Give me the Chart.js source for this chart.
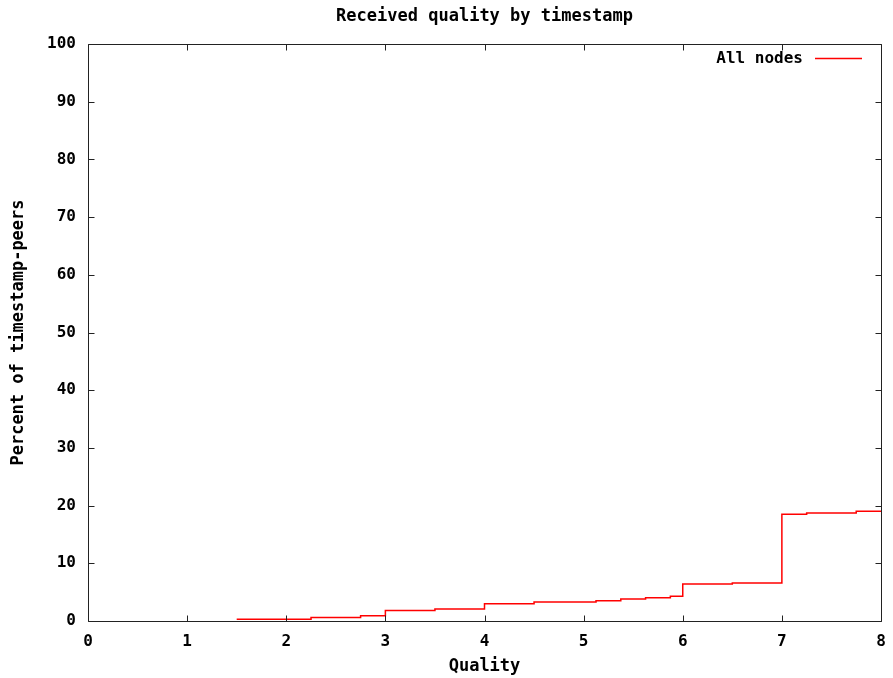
<!DOCTYPE html>
<html>
<head>
<meta charset="utf-8">
<title>Received quality by timestamp</title>
<script src="https://cdn.jsdelivr.net/npm/chart.js@4/dist/chart.umd.min.js"></script>
<style>
  html, body { margin: 0; padding: 0; background: #fff; }
  #wrap { width: 893px; height: 678px; }
</style>
</head>
<body>
<div id="wrap"><canvas id="qualityChart" width="893" height="678"></canvas></div>
<script>
// quality step positions and percent of timestamp-peers at each step
const qualities = [1.5, 2.25, 2.75, 3, 3.5, 4, 4.5, 5.125, 5.375, 5.625, 5.875, 6, 6.5, 7, 7.25, 7.75, 8];
const percents  = [0.3, 0.6, 0.9, 1.8, 2.1, 3.0, 3.3, 3.5, 3.8, 4.05, 4.3, 6.4, 6.6, 18.5, 18.7, 19.0, 19.0];
const xTicks = [0, 1, 2, 3, 4, 5, 6, 7, 8];
const yTicks = [0, 10, 20, 30, 40, 50, 60, 70, 80, 90, 100];

const chartTitle = 'Received quality by timestamp';
const xTitle = 'Quality';
const yTitle = 'Percent of timestamp-peers';
const seriesName = 'All nodes';

const FONT = '"DejaVu Sans Mono", "Liberation Mono", monospace';
const TITLE_FONT = 'bold 17px ' + FONT;
const KEY_FONT = 'bold 16px ' + FONT;

// frame, inward ticks, titles and key, gnuplot style
const framePlugin = {
    id: 'frame',
    afterDraw(chart) {
        const ctx = chart.ctx;
        const area = chart.chartArea;
        const xs = chart.scales.x, ys = chart.scales.y;
        const L = Math.round(area.left) + 0.5, R = Math.round(area.right) + 0.5;
        const T = Math.round(area.top) + 0.5, B = Math.round(area.bottom) + 0.5;
        ctx.save();
        ctx.strokeStyle = '#222';
        ctx.lineWidth = 1;
        ctx.beginPath();
        ctx.rect(L, T, R - L, B - T);
        const tl = 6;
        xTicks.forEach(v => {
            const px = Math.round(xs.getPixelForValue(v)) + 0.5;
            ctx.moveTo(px, B); ctx.lineTo(px, B - tl);
            ctx.moveTo(px, T); ctx.lineTo(px, T + tl);
        });
        yTicks.forEach(v => {
            const py = Math.round(ys.getPixelForValue(v)) + 0.5;
            ctx.moveTo(L, py); ctx.lineTo(L + tl, py);
            ctx.moveTo(R, py); ctx.lineTo(R - tl, py);
        });
        ctx.stroke();

        ctx.fillStyle = '#000';
        ctx.font = TITLE_FONT;
        ctx.textAlign = 'center';
        ctx.textBaseline = 'middle';
        ctx.fillText(chartTitle, (area.left + area.right) / 2, 17);
        ctx.fillText(xTitle, (area.left + area.right) / 2, 667);

        ctx.save();
        ctx.translate(19, (area.top + area.bottom) / 2);
        ctx.rotate(-Math.PI / 2);
        ctx.fillText(yTitle, 0, 0);
        ctx.restore();

        // key
        ctx.font = KEY_FONT;
        ctx.textAlign = 'right';
        ctx.fillText(seriesName, 803, 59);
        ctx.strokeStyle = '#ff0000';
        ctx.lineWidth = 1.5;
        ctx.beginPath();
        ctx.moveTo(815, 58.5); ctx.lineTo(862, 58.5);
        ctx.stroke();
        ctx.restore();
    }
};

const ctx = document.getElementById('qualityChart').getContext('2d');
new Chart(ctx, {
    type: 'line',
    data: {
        datasets: [{
            label: seriesName,
            data: qualities.map((q, i) => ({ x: q, y: percents[i] })),
            borderColor: '#ff0000',
            borderWidth: 1.5,
            pointRadius: 0,
            stepped: 'before',
            fill: false
        }]
    },
    options: {
        responsive: false,
        animation: false,
        layout: { padding: { left: 0, right: 12, top: 44, bottom: 0 } },
        plugins: {
            legend: { display: false },
            title: { display: false },
            tooltip: { enabled: false }
        },
        scales: {
            x: {
                type: 'linear',
                min: 0, max: 8,
                afterBuildTicks: s => { s.ticks = xTicks.map(v => ({ value: v })); },
                afterFit: s => { s.height = 57; s.paddingLeft = 0; s.paddingRight = 0; },
                grid: { display: false, drawTicks: false },
                border: { display: false },
                ticks: {
                    padding: 11,
                    autoSkip: false,
                    maxRotation: 0,
                    color: '#000',
                    font: { family: FONT, size: 16, weight: 'bold' }
                }
            },
            y: {
                min: 0, max: 100,
                afterBuildTicks: s => { s.ticks = yTicks.map(v => ({ value: v })); },
                afterFit: s => { s.width = 88; s.paddingTop = 0; s.paddingBottom = 0; },
                grid: { display: false, drawTicks: false },
                border: { display: false },
                ticks: {
                    padding: 12,
                    color: '#000',
                    font: { family: FONT, size: 16, weight: 'bold' }
                }
            }
        }
    },
    plugins: [framePlugin]
});
</script>
</body>
</html>
